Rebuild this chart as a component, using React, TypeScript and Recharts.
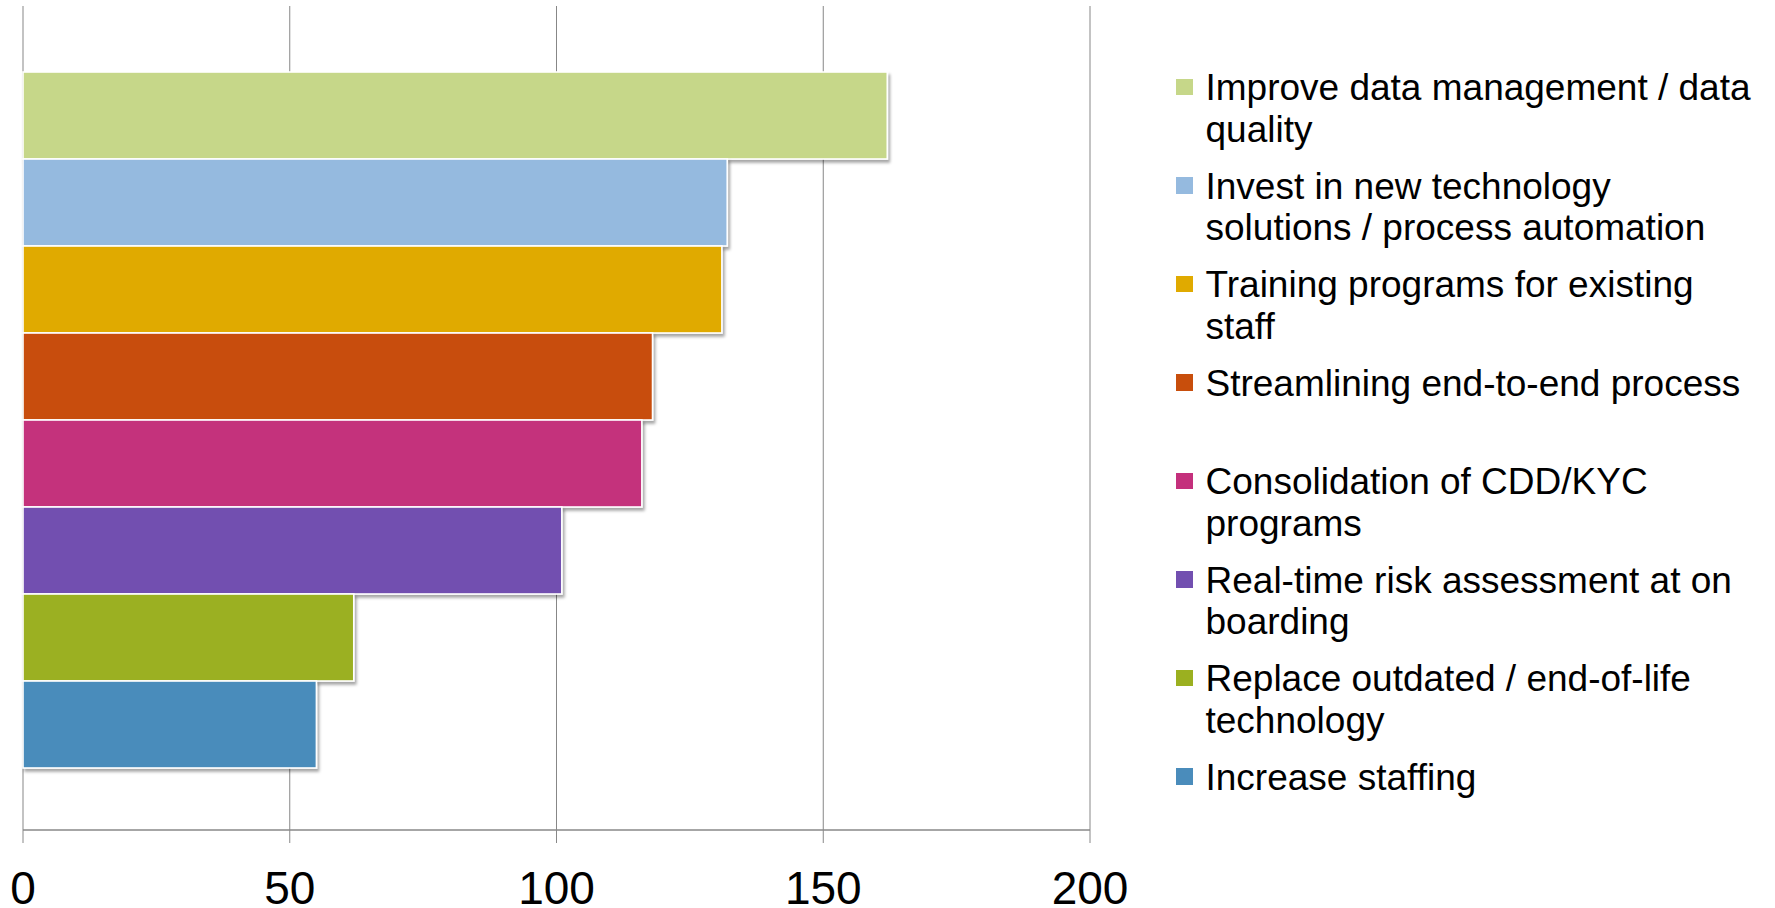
import React from "react";
import { BarChart, Bar, XAxis, YAxis, CartesianGrid, Legend } from "recharts";

const categories = [
  "Improve data management / data quality",
  "Invest in new technology solutions / process automation",
  "Training programs for existing staff",
  "Streamlining end-to-end process",
  "Consolidation of CDD/KYC programs",
  "Real-time risk assessment at on boarding",
  "Replace outdated / end-of-life technology",
  "Increase staffing",
];
const values = [162, 132, 131, 118, 116, 101, 62, 55];
const colors = [
  "#C6D789",
  "#95BADF",
  "#E0AA00",
  "#C84E0C",
  "#C4307C",
  "#724FB0",
  "#9BB020",
  "#4A8CBB",
];
const xTicks = [0, 50, 100, 150, 200];

const row: Record<string, string | number> = { group: "All" };
categories.forEach((_, i) => {
  row[`v${i}`] = values[i];
});
const data = [row];

const FONT = "'Liberation Sans', Arial, Helvetica, sans-serif";

const ShadowRect = (props: any) => {
  const { x, y, width, height, fill } = props;
  if (width == null || height == null) return null;
  return (
    <rect
      x={x}
      y={y}
      width={width}
      height={height}
      fill={fill}
      stroke="#ffffff"
      strokeWidth={1.6}
      filter="url(#barShadow)"
    />
  );
};

const LegendContent = () => (
  <div style={{ fontFamily: FONT, fontSize: 37, lineHeight: "41.7px", color: "#000" }}>
    {categories.map((c, i) => (
      <div key={c} style={{ position: "relative", height: 98.5 }}>
        <div
          style={{
            position: "absolute",
            left: 0,
            top: 11.5,
            width: 16.5,
            height: 16.5,
            background: colors[i],
          }}
        />
        <div style={{ position: "absolute", left: 29.5, top: 0, width: 551 }}>{c}</div>
      </div>
    ))}
  </div>
);

export default function App() {
  return (
    <div style={{ width: 1775, height: 908, position: "relative", background: "#fff" }}>
      <style>{`body{margin:0;background:#fff;}`}</style>
      <BarChart
        width={1775}
        height={908}
        data={data}
        layout="vertical"
        margin={{ top: 6, right: 685, bottom: 0, left: 23 }}
        barCategoryGap={66}
        barGap={0}
      >
        <defs>
          <filter id="barShadow" x="-5%" y="-10%" width="115%" height="130%">
            <feDropShadow dx="2" dy="3" stdDeviation="1.6" floodColor="#000" floodOpacity="0.35" />
          </filter>
        </defs>
        <CartesianGrid horizontal={false} vertical={true} stroke="#878787" strokeWidth={1} />
        <XAxis
          type="number"
          domain={[0, 200]}
          ticks={xTicks}
          interval={0}
          height={78}
          axisLine={{ stroke: "#888888", strokeWidth: 1.6 }}
          tickLine={{ stroke: "#888888", strokeWidth: 1 }}
          tickSize={13}
          tickMargin={28}
          tick={{ fill: "#000", fontSize: 46, fontFamily: FONT }}
        />
        <YAxis type="category" dataKey="group" hide width={0} />
        {categories.map((c, i) => (
          <Bar
            key={c}
            dataKey={`v${i}`}
            name={c}
            fill={colors[i]}
            isAnimationActive={false}
            shape={ShadowRect}
          />
        ))}
        <Legend
          layout="vertical"
          align="center"
          verticalAlign="middle"
          wrapperStyle={{ left: 1176, top: 67, width: 595 }}
          content={LegendContent}
        />
      </BarChart>
    </div>
  );
}
